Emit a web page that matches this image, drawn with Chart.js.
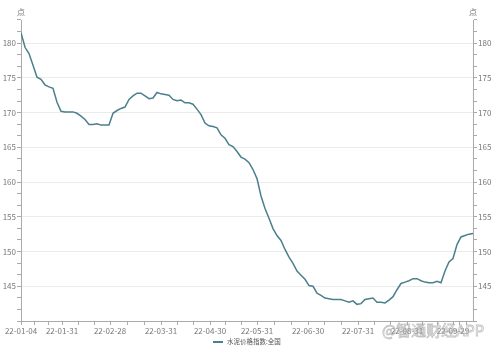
<!DOCTYPE html>
<html><head><meta charset="utf-8">
<script src="https://cdn.jsdelivr.net/npm/chart.js@4"></script>
<style>html,body{margin:0;padding:0;background:#fff}#wrap{width:496px;height:348px}</style>
</head><body><div id="wrap"><canvas id="c" width="496" height="348"></canvas></div>
<script>
const seriesName = '水泥价格指数:全国';
const unitLabel = '点';
const xTickLabels = ['22-01-04','22-01-31','22-02-28','22-03-31','22-04-30','22-05-31','22-06-30','22-07-31','22-08-31','22-09-29'];
const xTickIdx = [0, 10.25, 22.25, 35, 47.25, 59, 71.75, 84.25, 96.5, 108];
const values = [
181.5,179.4,178.5,176.8,175.1,174.8,174.0,173.7,173.5,171.5,
170.2,170.1,170.1,170.1,169.9,169.5,169.0,168.3,168.3,168.4,
168.2,168.2,168.2,169.9,170.3,170.6,170.8,171.9,172.4,172.8,
172.8,172.4,172.0,172.1,172.9,172.7,172.6,172.5,171.9,171.7,
171.8,171.4,171.4,171.2,170.5,169.7,168.5,168.1,168.0,167.8,
166.8,166.3,165.4,165.1,164.4,163.6,163.3,162.8,161.8,160.5,
158.0,156.2,154.8,153.3,152.3,151.6,150.3,149.2,148.3,147.2,
146.6,146.0,145.1,145.0,144.0,143.7,143.3,143.2,143.1,143.1,
143.1,142.9,142.7,142.9,142.4,142.5,143.1,143.2,143.3,142.7,
142.7,142.6,143.0,143.5,144.5,145.4,145.6,145.8,146.1,146.1,
145.8,145.6,145.5,145.5,145.7,145.5,147.2,148.5,149.0,151.0,
152.1,152.3,152.5,152.6
];
const yMin = 140, yMax = 183.33;
const yMajor = [145,150,155,160,165,170,175,180];

const lineColor = '#4b7f8e';
const textColor = '#777';
const fontFam = '"Noto Sans CJK SC","Noto Sans",sans-serif';

function yTicks(scale){
  const t=[];
  for(let k=0;k<=26;k++){ const v = yMin + k*5/3; if(v<=yMax+0.01) t.push({value: Math.round(v*1000)/1000}); }
  scale.ticks = t;
}
function isMajorY(v){ return yMajor.some(m=>Math.abs(m-v)<0.01); }
function xTicks(scale){
  const t=[];
  for(let i=0;i<xTickIdx.length;i++){
    t.push({value:xTickIdx[i]});
    const nxt = i+1<xTickIdx.length ? xTickIdx[i+1] : values.length-1;
    const step=(nxt-xTickIdx[i])/3;
    for(let k=1;k<3;k++){ const v=xTickIdx[i]+k*step; if(v<=values.length-1) t.push({value:v}); }
  }
  scale.ticks=t;
}

const decor = {
  id:'decor',
  afterDraw(chart){
    const ctx=chart.ctx; const a=chart.chartArea;
    ctx.save();
    ctx.fillStyle=textColor; ctx.font='8px "Noto Sans CJK SC"'; ctx.textAlign='center'; ctx.textBaseline='middle';
    ctx.fillText(unitLabel, a.left, 12);
    ctx.fillText(unitLabel, a.right, 12);
    // legend
    ctx.strokeStyle=lineColor; ctx.lineWidth=2;
    ctx.beginPath(); ctx.moveTo(213,342); ctx.lineTo(223,342); ctx.stroke();
    ctx.fillStyle='#555'; ctx.font='6.5px '+fontFam; ctx.textAlign='left';
    ctx.fillText(seriesName, 227, 342);
    // watermark
    ctx.font='15px '+fontFam; ctx.textAlign='left';
    ctx.strokeStyle='rgba(170,170,170,0.7)'; ctx.lineWidth=0.8;
    ctx.strokeText('@智通财经APP', 382, 330);
    ctx.restore();
  }
};

new Chart(document.getElementById('c'), {
  type:'line',
  data:{ datasets:[{ label:seriesName, data: values.map((v,i)=>({x:i,y:v})), borderColor:lineColor, borderWidth:1.5, pointRadius:0, tension:0, fill:false, yAxisID:'y' }]},
  options:{
    responsive:false, animation:false, devicePixelRatio:1,
    layout:{padding:{top:20,left:0,right:0,bottom:0}},
    plugins:{legend:{display:false}, tooltip:{enabled:false}},
    scales:{
      x:{ type:'linear', min:0, max:values.length-1,
        afterBuildTicks:xTicks,
        afterFit(s){ s.height=27; },
        border:{color:'#aaa'},
        grid:{drawOnChartArea:false, tickLength:4, color:'#aaa'},
        ticks:{ autoSkip:false, maxRotation:0, padding:1, color:textColor, font:{size:8,family:fontFam},
          callback(v){ const i=xTickIdx.findIndex(t=>Math.abs(t-v)<0.001); return i>=0?xTickLabels[i]:''; } }
      },
      y:{ position:'left', min:yMin, max:yMax,
        afterBuildTicks:yTicks,
        afterFit(s){ s.width=21; },
        border:{color:'#aaa'},
        grid:{ tickLength:4, color:(c)=> isMajorY(c.tick.value)?'#ebebeb':'rgba(0,0,0,0)', tickColor:'#aaa' },
        ticks:{ autoSkip:false, padding:1, color:textColor, font:{size:8,family:fontFam},
          callback(v){ return isMajorY(v)?String(Math.round(v)):''; } }
      },
      y2:{ position:'right', min:yMin, max:yMax,
        afterBuildTicks:yTicks,
        afterFit(s){ s.width=23; },
        border:{color:'#aaa'},
        grid:{ drawOnChartArea:false, tickLength:4, color:'#aaa' },
        ticks:{ autoSkip:false, padding:1, color:textColor, font:{size:8,family:fontFam},
          callback(v){ return isMajorY(v)?String(Math.round(v)):''; } }
      }
    }
  },
  plugins:[decor]
});
</script></body></html>
